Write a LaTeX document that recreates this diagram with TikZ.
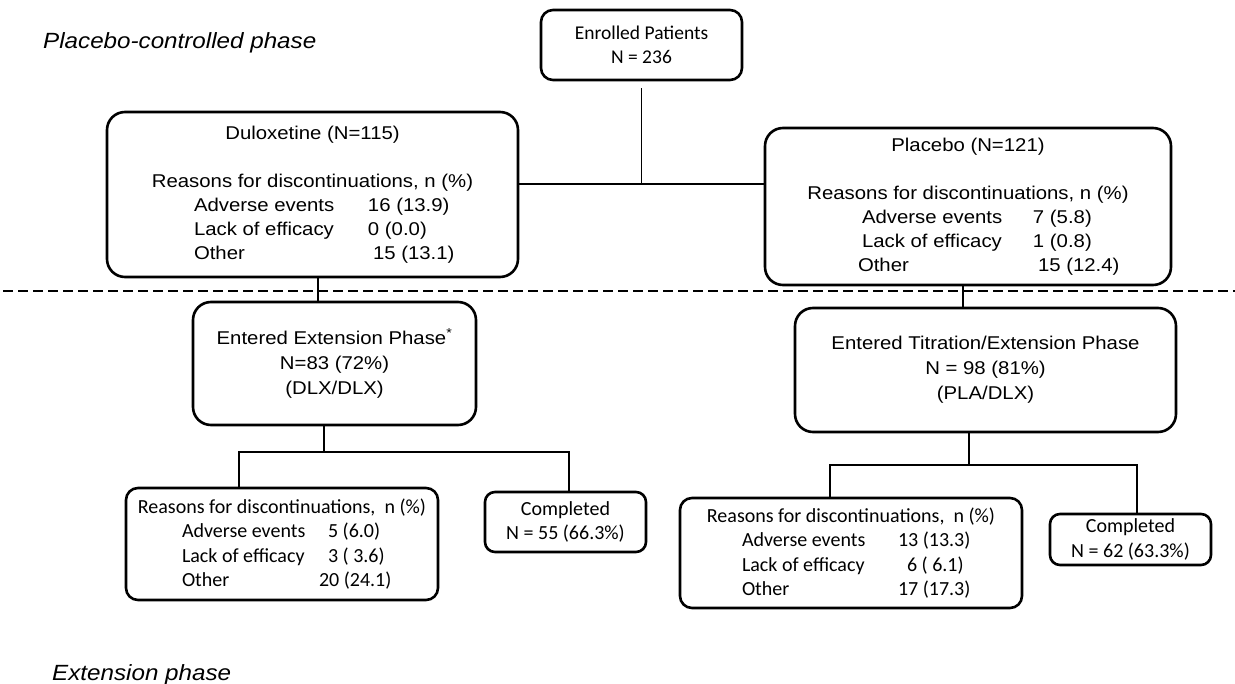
\documentclass[tikz,border=0pt]{standalone}
\usepackage{fontspec}
\setmainfont{Liberation Sans}[FakeStretch=1.1]
\newfontfamily\calfont{Carlito}
\newcommand\drow[4]{\makebox[#1][l]{#3}\makebox[#2][l]{#4}}
\tikzset{
  box/.style={draw, line width=2.6pt, rounded corners=18pt, inner sep=0pt, align=center,
    font=\fontsize{18.5}{24}\selectfont},
  cbox/.style={box, rounded corners=12pt, font=\calfont\fontsize{20}{24.5}\selectfont},
  conn/.style={line width=1.6pt},
  sep/.style={line width=1.8pt, dash pattern=on 10pt off 5pt},
  phase/.style={font=\itshape\fontsize{22}{26}\selectfont, anchor=base west, inner sep=0pt},
}
\begin{document}
\begin{tikzpicture}[x=1pt,y=-1pt]
\useasboundingbox[fill=white] (0,0) rectangle (1235,684);

% phase labels
\node[phase] (ph1) at (43,49) {Placebo-controlled phase};
\node[phase] (ph2) at (52,680) {Extension phase};

% separator
\draw[sep] (3,291) -- (1235,291);

% boxes
\node[cbox, minimum width=201pt, minimum height=70pt, font=\calfont\fontsize{19.5}{24}\selectfont]
  (enr) at (641.5,45) {Enrolled Patients\\N = 236};

\node[box, minimum width=411pt, minimum height=165pt] (dlx) at (312.5,194.5)
  {Duloxetine (N=115)\\[24pt]
   Reasons for discontinuations, n (\%)\\
   \drow{174pt}{63pt}{Adverse events}{16 (13.9)}\\
   \drow{174pt}{63pt}{Lack of efficacy}{0 (0.0)}\\
   \drow{174pt}{63pt}{Other}{\hspace*{5pt}15 (13.1)}};

\node[box, minimum width=406pt, minimum height=157pt] (pla) at (968,206.5)
  {Placebo (N=121)\\[24pt]
   Reasons for discontinuations, n (\%)\\
   \drow{171pt}{41pt}{Adverse events}{7 (5.8)}\\
   \drow{171pt}{41pt}{Lack of efficacy}{1 (0.8)}\\
   \drow{171pt}{41pt}{\hspace*{-4pt}Other}{\hspace*{5pt}15 (12.4)}};

\node[box, minimum width=283pt, minimum height=123pt, font=\fontsize{18.5}{25}\selectfont]
  (ext) at (334.5,363.5)
  {Entered Extension Phase\textsuperscript{*}\\N=83 (72\%)\\(DLX/DLX)};

\node[box, minimum width=381pt, minimum height=124pt, font=\fontsize{18.5}{25}\selectfont]
  (tit) at (985.5,370)
  {Entered Titration/Extension Phase\\N = 98 (81\%)\\(PLA/DLX)};

\node[cbox, minimum width=312pt, minimum height=112pt] (r1) at (282,544)
  {Reasons for discontinuations,~ n (\%)\\
   \drow{146pt}{54pt}{Adverse events}{5 (6.0)}\\
   \drow{146pt}{54pt}{Lack of efficacy}{3 ( 3.6)}\\
   \drow{146pt}{54pt}{Other}{\hspace*{-9pt}20 (24.1)}};

\node[cbox, minimum width=161pt, minimum height=60pt, rounded corners=10pt] (c1) at (565.5,522)
  {Completed\\N = 55 (66.3\%)};

\node[cbox, minimum width=342pt, minimum height=110pt] (r2) at (851,553)
  {Reasons for discontinuations,~ n (\%)\\
   \drow{156pt}{62pt}{Adverse events}{13 (13.3)}\\
   \drow{156pt}{62pt}{Lack of efficacy}{\hspace*{9pt}6 ( 6.1)}\\
   \drow{156pt}{62pt}{Other}{17 (17.3)}};

\node[cbox, minimum width=161pt, minimum height=51pt, rounded corners=10pt] (c2) at (1130.5,539.5)
  {Completed\\N = 62 (63.3\%)};

% connectors, top
\coordinate (j0) at (641.5,184);
\draw[conn, shorten <=7pt] (enr.south) -- (j0);
\draw[conn] (dlx.east |- j0) -- (pla.west |- j0);
\coordinate (d1) at ([xshift=5.5pt]dlx.south);
\draw[conn] (d1) -- (d1 |- ext.north);
\coordinate (p1) at ([xshift=-5pt]pla.south);
\draw[conn] (p1) -- (p1 |- tit.north);

% connectors, left tree
\coordinate (e1) at ([xshift=-10.5pt]ext.south);
\coordinate (lL) at (239,452);
\coordinate (lR) at (569,452);
\draw[conn] (e1) -- (e1 |- lL);
\draw[conn] (r1.north -| lL) -- (lL) -- (lR) -- (c1.north -| lR);

% connectors, right tree
\coordinate (t1) at ([xshift=-16.5pt]tit.south);
\coordinate (rL) at (830,465);
\coordinate (rR) at (1137,465);
\draw[conn] (t1) -- (t1 |- rL);
\draw[conn] (r2.north -| rL) -- (rL) -- (rR) -- (c2.north -| rR);
\end{tikzpicture}
\end{document}
